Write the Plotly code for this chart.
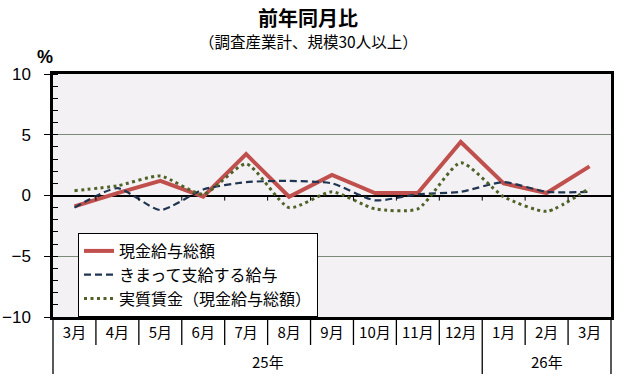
import plotly.graph_objects as go

# ---- data ----
months = ["3月", "4月", "5月", "6月", "7月", "8月", "9月", "10月", "11月", "12月", "1月", "2月", "3月"]
year_labels = ["25年", "26年"]
year_counts = [10, 3]

genkin = [-0.9, 0.2, 1.2, -0.1, 3.4, -0.1, 1.7, 0.2, 0.2, 4.4, 1.0, 0.2, 2.4]
kimatte = [-1.0, 0.6, -1.2, 0.5, 1.1, 1.2, 1.0, -0.4, 0.1, 0.3, 1.1, 0.3, 0.3]
jisshitsu = [0.4, 0.8, 1.6, 0.1, 2.6, -1.0, 0.3, -1.1, -1.1, 2.7, -0.1, -1.3, 0.6]

series_names = ["現金給与総額", "きまって支給する給与", "実質賃金（現金給与総額）"]

y_ticks = [-10, -5, 0, 5, 10]

CJK = "Noto Sans CJK JP"
LAT = "Liberation Sans, Arial"

n = len(months)
xs = list(range(n))

fig = go.Figure()
fig.add_trace(go.Scatter(x=xs, y=genkin, name=series_names[0], mode="lines",
                         line=dict(color="#c0504d", width=4)))
fig.add_trace(go.Scatter(x=xs, y=kimatte, name=series_names[1], mode="lines",
                         line=dict(color="#1f3552", width=2.2, dash="7px,4px",
                                   shape="spline", smoothing=0.6)))
fig.add_trace(go.Scatter(x=xs, y=jisshitsu, name=series_names[2], mode="lines",
                         line=dict(color="#4f6228", width=3, dash="3px,3.5px",
                                   shape="spline", smoothing=0.6)))

# plot geometry (px)
L, R, T, B = 53, 19, 74, 63
W, H = 630, 380
pw, ph = W - L - R, H - T - B

def py2paper(py):
    return (H - B - py) / ph

def px2paper(px):
    return (px - L) / pw

shapes = []
# small ticks below the zero line at category boundaries
for k in range(n - 1):
    shapes.append(dict(type="line", xref="x", yref="y", x0=k + 0.5, x1=k + 0.5,
                       y0=0, y1=-0.42, line=dict(color="black", width=1)))

# category table below the plot
month_bottom = py2paper(345)
year_bottom = py2paper(374)
year_edges = [0]
for c in year_counts:
    year_edges.append(year_edges[-1] + c)
for k in range(n + 1):
    xp = k / n
    yb = year_bottom if k in year_edges else month_bottom
    shapes.append(dict(type="line", xref="paper", yref="paper", x0=xp, x1=xp,
                       y0=0, y1=yb, line=dict(color="black", width=1.3)))

annotations = []
for i, lab in enumerate(year_labels):
    xc = (year_edges[i] + year_edges[i + 1]) / 2 / n
    annotations.append(dict(text=lab, xref="paper", yref="paper", x=xc, y=py2paper(361),
                            showarrow=False, xanchor="center", yanchor="middle",
                            font=dict(family=CJK, size=15, color="black")))

annotations.append(dict(text="<b>前年同月比</b>", xref="paper", yref="paper",
                        x=px2paper(308), y=py2paper(17), showarrow=False,
                        xanchor="center", yanchor="middle",
                        font=dict(family=CJK, size=20, color="black")))
annotations.append(dict(text="（調査産業計、規模30人以上）", xref="paper", yref="paper",
                        x=px2paper(308), y=py2paper(41), showarrow=False,
                        xanchor="center", yanchor="middle",
                        font=dict(family=CJK, size=15.5, color="black")))
annotations.append(dict(text="<b>%</b>", xref="paper", yref="paper",
                        x=px2paper(45), y=py2paper(57), showarrow=False,
                        xanchor="center", yanchor="middle",
                        font=dict(family=LAT, size=18, color="black")))

fig.update_layout(
    width=W, height=H,
    margin=dict(l=L, r=R, t=T, b=B, pad=0, autoexpand=False),
    paper_bgcolor="white",
    plot_bgcolor="#f3f1f3",
    showlegend=True,
    legend=dict(x=px2paper(78), y=py2paper(233), xanchor="left", yanchor="top",
                bgcolor="white", bordercolor="black", borderwidth=1,
                font=dict(family=CJK, size=16, color="black"),
                itemwidth=30, tracegroupgap=0),
    shapes=shapes,
    annotations=annotations,
    xaxis=dict(range=[-0.5, n - 0.5], tickmode="array", tickvals=xs, ticktext=months,
               ticks="", showgrid=False, zeroline=False, automargin=False,
               showline=True, mirror=True, linecolor="black", linewidth=2.5,
               tickfont=dict(family=CJK, size=15, color="black"), fixedrange=True),
    yaxis=dict(range=[-10, 10], tickmode="array", tickvals=y_ticks,
               ticks="outside", ticklen=6, tickwidth=1, tickcolor="black",
               ticklabelstandoff=10, automargin=False,
               showgrid=True, gridcolor="#7a8a78", gridwidth=1,
               zeroline=True, zerolinecolor="black", zerolinewidth=1.5,
               showline=True, mirror=True, linecolor="black", linewidth=2.5,
               minor=dict(dtick=1, ticks="inside", ticklen=5, tickcolor="black",
                          tickwidth=1, showgrid=False),
               tickfont=dict(family=LAT, size=17, color="black"), fixedrange=True),
)

fig.write_html("out.html", config={"displayModeBar": False},
               post_script="document.body.style.margin='0';document.body.style.overflow='hidden';")
